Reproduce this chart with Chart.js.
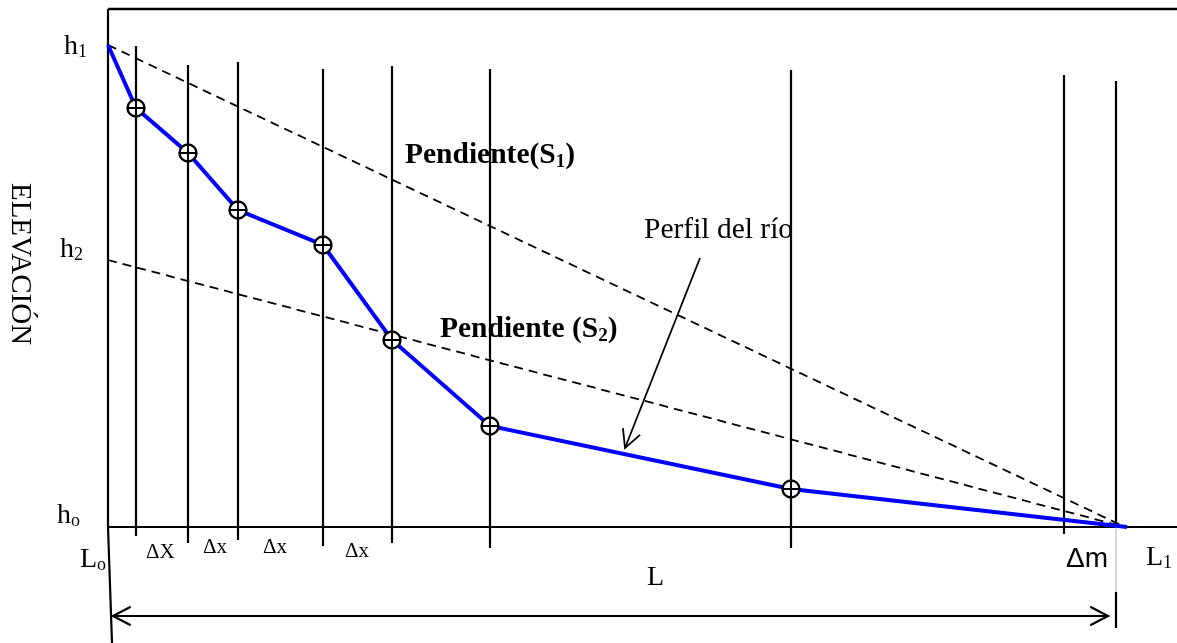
<!DOCTYPE html>
<html>
<head>
<meta charset="utf-8">
<script src="https://cdn.jsdelivr.net/npm/chart.js@4.4.1/dist/chart.umd.min.js"></script>
<style>
  html, body { margin: 0; padding: 0; background: #fff; }
  #wrap { width: 1177px; height: 643px; }
</style>
</head>
<body>
<div id="wrap"><canvas id="c" width="1177" height="643"></canvas></div>
<script>
// ---- Data (distance along river from L0, elevation above h0) ----
const profileDistance = [0, 28, 80, 130, 215, 284, 382, 683, 1019];
const profileElevation = [482, 419, 374, 317, 282, 187, 101, 38, 0];
const markerIndices = [1, 2, 3, 4, 5, 6, 7];

const sectionX      = [28, 80, 130, 215, 284, 382, 683, 956, 1008];
const sectionTop    = [481, 462, 465, 458, 461, 458, 457, 452, 446];
const sectionBottom = [-9, -16, -13, -19, -16, -21, -21, -7, 0];

const h1 = 482, h2 = 267, h0 = 0;
const slopeEnd = 1017;
const frameRight = 1069, frameTop = 518;

const lengthArrow = { from: 5, to: 1000, level: -89 };
const perfilArrow = { x0: 592, y0: 269, x1: 517, y1: 79 };

// ---- Build datasets ----
const markerPts = markerIndices.map(i => ({ x: profileDistance[i], y: profileElevation[i] }));
const profilePts = profileDistance.map((d, i) => ({ x: d, y: profileElevation[i] }));
const sectionPts = [];
sectionX.forEach((x, i) => {
  sectionPts.push({ x: x, y: sectionTop[i] }, { x: x, y: sectionBottom[i] }, { x: x, y: null });
});

const base = { showLine: true, pointRadius: 0, clip: false, spanGaps: false, borderJoinStyle: 'miter' };

const datasets = [
  Object.assign({}, base, { label: 'cross', data: markerPts, showLine: false, pointStyle: 'cross',
    pointRadius: 8.5, pointBorderColor: '#000', pointBorderWidth: 2, pointBackgroundColor: '#000' }),
  Object.assign({}, base, { label: 'circle', data: markerPts, showLine: false, pointStyle: 'circle',
    pointRadius: 8.5, pointBorderColor: '#000', pointBorderWidth: 2.4, pointBackgroundColor: '#fff' }),
  Object.assign({}, base, { label: 'Perfil', data: profilePts, borderColor: '#0000ff', borderWidth: 4 }),
  Object.assign({}, base, { label: 'S1', data: [{ x: 0, y: h1 }, { x: slopeEnd, y: h0 }],
    borderColor: '#000', borderWidth: 1.8, borderDash: [9, 6] }),
  Object.assign({}, base, { label: 'S2', data: [{ x: 0, y: h2 }, { x: slopeEnd, y: h0 }],
    borderColor: '#000', borderWidth: 1.8, borderDash: [9, 6] }),
  Object.assign({}, base, { label: 'sections', data: sectionPts, borderColor: '#000', borderWidth: 2.2 }),
  Object.assign({}, base, { label: 'L1mark', data: [{ x: 1008, y: -65 }, { x: 1008, y: -101 }],
    borderColor: '#000', borderWidth: 2.2 }),
  Object.assign({}, base, { label: 'L1faint', data: [{ x: 1008, y: 0 }, { x: 1008, y: -65 }],
    borderColor: '#cfcfcf', borderWidth: 1 }),
  Object.assign({}, base, { label: 'L', data: [{ x: lengthArrow.from, y: lengthArrow.level }, { x: lengthArrow.to, y: lengthArrow.level }],
    borderColor: '#000', borderWidth: 2.2, arrowStart: true, arrowEnd: true }),
  Object.assign({}, base, { label: 'perfilArrow', data: [{ x: perfilArrow.x0, y: perfilArrow.y0 }, { x: perfilArrow.x1, y: perfilArrow.y1 }],
    borderColor: '#000', borderWidth: 1.8, arrowEnd: true }),
  Object.assign({}, base, { label: 'frameLeft', data: [{ x: 0, y: frameTop }, { x: 0, y: h0 }, { x: 4, y: -116 }],
    borderColor: '#000', borderWidth: 2.2 }),
  Object.assign({}, base, { label: 'frameTop', data: [{ x: 0, y: frameTop }, { x: frameRight, y: frameTop }],
    borderColor: '#000', borderWidth: 2.5 }),
  Object.assign({}, base, { label: 'axis', data: [{ x: 0, y: h0 }, { x: frameRight, y: h0 }],
    borderColor: '#000', borderWidth: 2.2 })
];

// ---- Text annotations (data coordinates) ----
const SERIF = '"Liberation Serif", "Times New Roman", serif';
const labels = [
  { x: -44, y: 473, parts: [['h'], ['1', 'sub']], size: 28 },
  { x: -48, y: 270, parts: [['h'], ['2', 'sub']], size: 28 },
  { x: -51, y: 4,   parts: [['h'], ['o', 'sub']], size: 28 },
  { x: -28, y: -40, parts: [['L'], ['o', 'sub']], size: 28 },
  { x: 38,  y: -31, parts: [['\u0394X']], size: 21 },
  { x: 95,  y: -26, parts: [['\u0394x']], size: 21 },
  { x: 155, y: -26, parts: [['\u0394x']], size: 21 },
  { x: 237, y: -30, parts: [['\u0394x']], size: 21 },
  { x: 539, y: -58, parts: [['L']], size: 28 },
  { x: 958, y: -40, parts: [['\u0394m']], size: 28, family: '"Liberation Sans", Arial, sans-serif' },
  { x: 1038, y: -38, parts: [['L'], ['1', 'sub']], size: 28 },
  { x: 297, y: 364, parts: [['Pendiente('], ['S'], ['1', 'sub'], [')']], size: 29.5, bold: true },
  { x: 332, y: 190, parts: [['Pendiente ('], ['S'], ['2', 'sub'], [')']], size: 29.5, bold: true },
  { x: 536, y: 289, parts: [['Perfil del r\u00edo']], size: 29.5 }
];
const axisTitle = { text: 'ELEVACI\u00d3N', x: -88, y: 263, size: 29 };

const overlay = {
  id: 'overlay',
  afterDatasetsDraw(chart) {
    const ctx = chart.ctx;
    chart.data.datasets.forEach((ds, i) => {
      if (!ds.arrowStart && !ds.arrowEnd) return;
      const pts = chart.getDatasetMeta(i).data;
      const head = (tip, from) => {
        const ang = Math.atan2(tip.y - from.y, tip.x - from.x);
        const len = 20, spread = 0.48;
        ctx.save();
        ctx.strokeStyle = ds.borderColor; ctx.lineWidth = ds.borderWidth; ctx.lineCap = 'butt';
        ctx.beginPath();
        ctx.moveTo(tip.x - len * Math.cos(ang - spread), tip.y - len * Math.sin(ang - spread));
        ctx.lineTo(tip.x, tip.y);
        ctx.lineTo(tip.x - len * Math.cos(ang + spread), tip.y - len * Math.sin(ang + spread));
        ctx.stroke();
        ctx.restore();
      };
      if (ds.arrowEnd) head(pts[pts.length - 1], pts[pts.length - 2]);
      if (ds.arrowStart) head(pts[0], pts[1]);
    });
  },
  afterDraw(chart) {
    const ctx = chart.ctx, xs = chart.scales.x, ys = chart.scales.y;
    ctx.save();
    ctx.fillStyle = '#000';
    ctx.textBaseline = 'alphabetic';
    ctx.textAlign = 'left';
    labels.forEach(l => {
      let px = xs.getPixelForValue(l.x);
      const py = ys.getPixelForValue(l.y);
      const fam = l.family || SERIF;
      l.parts.forEach(([t, kind]) => {
        const sub = kind === 'sub';
        const sz = sub ? Math.round(l.size * 0.66) : l.size;
        ctx.font = (l.bold ? 'bold ' : '') + sz + 'px ' + fam;
        ctx.fillText(t, px, py + (sub ? l.size * 0.12 : 0));
        px += ctx.measureText(t).width;
      });
    });
    ctx.translate(xs.getPixelForValue(axisTitle.x), ys.getPixelForValue(axisTitle.y));
    ctx.rotate(Math.PI / 2);
    ctx.textAlign = 'center';
    ctx.textBaseline = 'middle';
    ctx.font = axisTitle.size + 'px ' + SERIF;
    ctx.fillText(axisTitle.text, 0, 0);
    ctx.restore();
  }
};

new Chart(document.getElementById('c'), {
  type: 'scatter',
  data: { datasets: datasets },
  options: {
    responsive: false,
    animation: false,
    events: [],
    layout: { autoPadding: false, padding: { left: 108, top: 9, right: 0, bottom: 116 } },
    plugins: { legend: { display: false }, tooltip: { enabled: false }, title: { display: false } },
    scales: {
      x: { type: 'linear', min: 0, max: frameRight, display: false },
      y: { type: 'linear', min: 0, max: frameTop, display: false }
    }
  },
  plugins: [overlay]
});
</script>
</body>
</html>
